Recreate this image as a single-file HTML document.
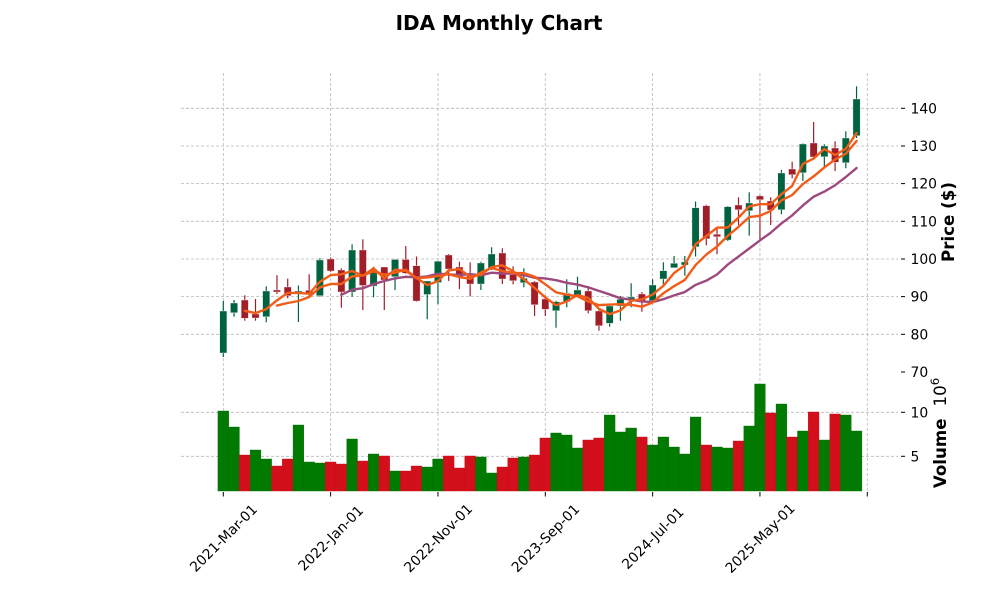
<!DOCTYPE html>
<html><head><meta charset="utf-8">
<style>
html,body{margin:0;padding:0;background:#fff;}
svg{display:block;font-family:"DejaVu Sans","Liberation Sans",sans-serif;}
</style></head><body>
<svg id="c" width="1000" height="600" viewBox="0 0 1000 600" xmlns="http://www.w3.org/2000/svg">
<rect width="1000" height="600" fill="#fff"/>
<g id="grid"></g>
<g id="vol"></g>
<g id="cand"></g>
<g id="ma"></g>
<g id="ticks" stroke="#000" stroke-width="1"></g>
<text x="499" y="30" text-anchor="middle" font-size="20" font-weight="bold" fill="#000">IDA Monthly Chart</text>
<g font-size="13.9" fill="#000">
<text x="910.5" y="108.3" dy=".36em">140</text>
<text x="910.5" y="146" dy=".36em">130</text>
<text x="910.5" y="183.6" dy=".36em">120</text>
<text x="910.5" y="221.3" dy=".36em">110</text>
<text x="910.5" y="259" dy=".36em">100</text>
<text x="910.5" y="296.6" dy=".36em">90</text>
<text x="910.5" y="334.3" dy=".36em">80</text>
<text x="910.5" y="372" dy=".36em">70</text>
<text x="910.5" y="412.3" dy=".36em">10</text>
<text x="910.5" y="456.3" dy=".36em">5</text>
<text transform="translate(223.3,538) rotate(-45)" text-anchor="middle" dy=".36em">2021-Mar-01</text>
<text transform="translate(330.6,538) rotate(-45)" text-anchor="middle" dy=".36em">2022-Jan-01</text>
<text transform="translate(437.9,538) rotate(-45)" text-anchor="middle" dy=".36em">2022-Nov-01</text>
<text transform="translate(545.3,538) rotate(-45)" text-anchor="middle" dy=".36em">2023-Sep-01</text>
<text transform="translate(652.6,538) rotate(-45)" text-anchor="middle" dy=".36em">2024-Jul-01</text>
<text transform="translate(759.9,538) rotate(-45)" text-anchor="middle" dy=".36em">2025-May-01</text>
</g>
<text transform="translate(954,222) rotate(-90)" text-anchor="middle" font-size="16.67" font-weight="bold" fill="#000">Price ($)</text>
<text transform="translate(946,433) rotate(-90)" text-anchor="middle" font-size="16.67" fill="#000"><tspan font-weight="bold">Volume</tspan><tspan dx="12">10</tspan><tspan dy="-7" font-size="11.7">6</tspan></text>
</svg>
<script>
(function(){
var NS='http://www.w3.org/2000/svg';
function el(tag,a,p){var e=document.createElementNS(NS,tag);for(var k in a)e.setAttribute(k,a[k]);p.appendChild(e);return e;}
var X0=223.3, DX=10.733;
function X(i){return X0+i*DX;}
// O,C,H,L in pixel y
var D=[[353,311,301,357],[312.7,303,300,316.7],[300,318.3,295.3,320.7],[314,318,299,320.7],[316.7,291,286.3,322.3],
[290,292,275.3,294],[287,295.7,278.7,298.3],[292.5,291,285.5,322],[290.3,294.3,274.3,296.7],[295.7,260,258.3,296.7],
[259,271,257.5,272],[270,292,268.3,307.7],[292,250,244.3,296.7],[250,285.5,239.3,310],[286,269.5,266.7,297.3],
[267,280,267,310],[276.7,259.5,259.3,290],[259.5,273.3,246,274],[265.7,301,256.5,301.7],[294.5,281,281,319.3],
[282.5,261.2,261,304.2],[255,269,254,281],[267,277,261.7,289.2],[274,284,262.3,296.3],[284,263,261.7,290],
[269.3,254,247.3,270],[253,279,248.3,284],[274.7,280.7,266.3,284.3],[282.7,278.3,268.3,287.3],[282,304.7,281,316],
[299,309.3,295.7,316],[310.7,301.7,300.7,327.7],[301.7,293.3,279.3,307.3],[296.7,290,276.7,297],[291,310.7,286,313.3],
[311,325.7,309,330.7],[323.3,306,305,326.7],[306,299.3,296,320.7],[300,297,283.3,307.3],[294,301.7,292,311.7],
[300.7,285,279.3,302],[279,270.7,262.3,285],[267.7,263.3,256,268],[265,262,256,275.7],[246.7,207.7,201.5,256.5],
[205.7,238.7,204.7,245.3],[234.3,236.7,228.3,254.3],[240,206.7,206,241],[205,209.7,197.3,225],[210.7,203,192.3,235.7],
[196,199.7,195,240],[201,210,197.3,225],[209.7,173,170,214.3],[169,174.7,161.7,178.3],[172.7,144,143.3,181],
[143,157,122,158],[156.7,146,144.3,166.7],[148,162.3,141.3,171],[162.7,138,131.3,168.3],[135.7,99,86.3,138]];
var V=[[411,'g'],[427,'g'],[455,'r'],[450,'g'],[459,'g'],[466,'r'],[459,'r'],[425,'g'],[462,'g'],[463,'g'],
[462,'r'],[464,'r'],[439,'g'],[461,'r'],[454,'g'],[456,'r'],[471,'g'],[471,'r'],[466,'r'],[467,'g'],
[459,'g'],[456,'r'],[468,'r'],[456,'r'],[457,'g'],[473,'g'],[467,'r'],[458,'r'],[457,'g'],[455,'r'],
[438,'r'],[433,'g'],[435,'g'],[448,'g'],[440,'r'],[438,'r'],[415,'g'],[432,'g'],[428,'g'],[437,'r'],
[445,'g'],[437,'g'],[447,'g'],[454,'g'],[417,'g'],[445,'r'],[447,'g'],[448,'g'],[441,'r'],[426,'g'],
[384,'g'],[413,'r'],[404,'g'],[437,'r'],[431,'g'],[412,'r'],[440,'g'],[414,'r'],[415,'g'],[431,'g']];
var grid=document.getElementById('grid');
var gs={stroke:'#b8b8b8','stroke-width':0.8,'stroke-dasharray':'3,2',fill:'none'};
function gl(x1,y1,x2,y2){var a={x1:x1,y1:y1,x2:x2,y2:y2};for(var k in gs)a[k]=gs[k];el('line',a,grid);}
var py=[108.3,146,183.6,221.3,259,296.6,334.3];
py.forEach(function(y){gl(181,y,898,y);});
[412.3,456.3].forEach(function(y){gl(181,y,898,y);});
var tx=[0,10,20,30,40,50,60].map(X);
tx.forEach(function(x){gl(x,73,x,491);});
var ticks=document.getElementById('ticks');
py.concat([372,412.3,456.3]).forEach(function(y){el('line',{x1:901,y1:y,x2:905,y2:y},ticks);});
tx.forEach(function(x){el('line',{x1:x,y1:492,x2:x,y2:496.5},ticks);});
var vol=document.getElementById('vol');
V.forEach(function(v,i){var c=v[1]=='g'?'#007a00':'#d40f1c';
el('rect',{x:X(i)-DX/2,y:v[0],width:DX,height:491-v[0],fill:c,stroke:c==='#007a00'?'#006d00':'#c00d19','stroke-width':0.4},vol);});
var cand=document.getElementById('cand');
D.forEach(function(d,i){var up=d[1]<d[0];var c=up?'#00633f':'#a01e28';var x=X(i);
el('line',{x1:x,y1:d[2],x2:x,y2:d[3],stroke:c,'stroke-width':1.2},cand);});
D.forEach(function(d,i){var up=d[1]<d[0];var c=up?'#00633f':'#a01e28';var x=X(i);
var t=Math.min(d[0],d[1]),h=Math.max(Math.abs(d[0]-d[1]),1);
el('rect',{x:x-3.6,y:t,width:7.2,height:h,fill:c,stroke:'#f4e9ec','stroke-width':0.4},cand);});
var ma=document.getElementById('ma');
function mav(p,col){var pts=[];for(var i=p-1;i<D.length;i++){var s=0;for(var j=i-p+1;j<=i;j++)s+=D[j][1];pts.push(X(i).toFixed(2)+','+(s/p).toFixed(2));}
el('polyline',{points:pts.join(' '),fill:'none',stroke:col,'stroke-width':2.4,'stroke-linejoin':'round','stroke-linecap':'round'},ma);}
mav(12,'#9c4a7e');mav(6,'#f25c19');mav(3,'#f25c19');
})();
</script>
</body></html>
